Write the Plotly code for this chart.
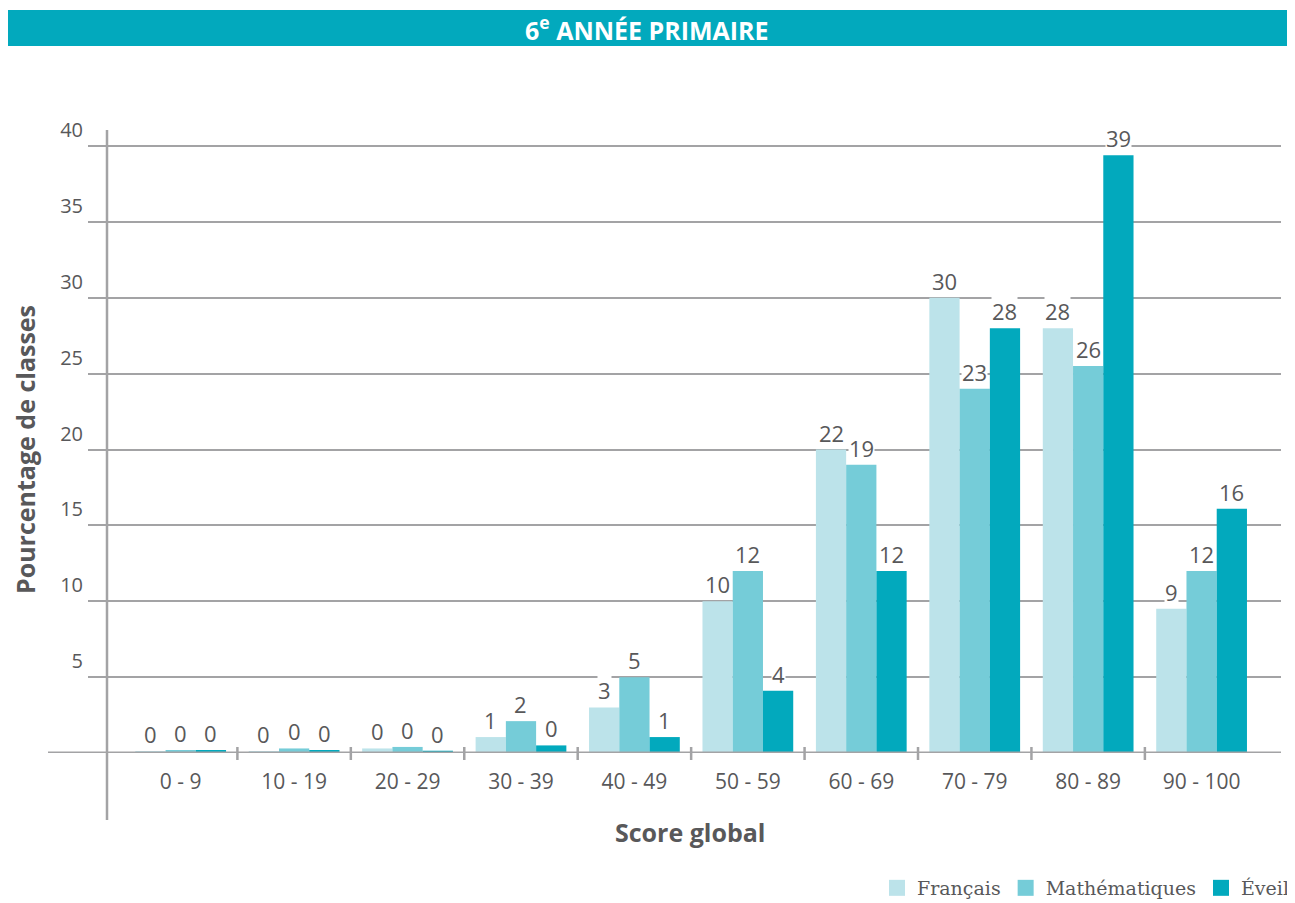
import plotly.graph_objects as go

categories = ["0 - 9", "10 - 19", "20 - 29", "30 - 39", "40 - 49",
              "50 - 59", "60 - 69", "70 - 79", "80 - 89", "90 - 100"]
series_names = ["Français", "Mathématiques", "Éveil"]
francais = [0.1, 0.1, 0.3, 1.05, 3.0, 10.0, 20.0, 30.0, 28.0, 9.5]
maths = [0.2, 0.3, 0.4, 2.1, 5.0, 12.0, 19.0, 24.0, 25.5, 12.0]
eveil = [0.2, 0.2, 0.15, 0.5, 1.05, 4.1, 12.0, 28.0, 39.4, 16.1]
francais_labels = [0, 0, 0, 1, 3, 10, 22, 30, 28, 9]
maths_labels = [0, 0, 0, 2, 5, 12, 19, 23, 26, 12]
eveil_labels = [0, 0, 0, 0, 1, 4, 12, 28, 39, 16]
y_ticks = [5, 10, 15, 20, 25, 30, 35, 40]

colors = ["#bce3ea", "#75ccd8", "#02a9bd"]
text_color = "#58585a"
grid_color = "#a3a3a5"
bargap = 0.2
FONT = "Open Sans, sans-serif"

OFF = 8  # page body margin
W, H = 1295, 903
YMAX = 40.4
# plot area in page pixels (x: left/right, y: row of value 40 and of value 0)
PL, PR, P40, PB = 88, 1281, 146, 753
PT = PB - (PB - P40) * YMAX / 40
PW, PH = PR - PL, PB - PT

values = [francais, maths, eveil]
labels = [francais_labels, maths_labels, eveil_labels]


def py(pix):
    return (PB - pix) / PH


def px(pix):
    return (pix - PL) / PW


fig = go.Figure()
for name, vals, col in zip(series_names, values, colors):
    fig.add_trace(go.Bar(x=categories, y=vals, name=name, marker_color=col,
                         marker_line_width=0, showlegend=False))
# legend entries (larger square swatches)
for name, col in zip(series_names, colors):
    fig.add_trace(go.Scatter(x=[None], y=[None], mode="markers", name=name,
                             marker=dict(symbol="square", size=22, color=col)))

annotations = []
w = (1 - bargap) / 3
for j, labs in enumerate(labels):
    for i, (v, lab) in enumerate(zip(values[j], labs)):
        annotations.append(dict(
            x=i + (j - 1) * w, y=v, xref="x", yref="y", text=str(lab),
            showarrow=False, yanchor="bottom", yshift=1, bgcolor="white",
            borderpad=0, font=dict(family=FONT, size=22, color=text_color)))

fig.update_layout(
    width=W, height=H,
    margin=dict(l=PL - OFF, r=W - (PR - OFF), t=PT - OFF, b=H - (PB - OFF), autoexpand=False),
    paper_bgcolor="white", plot_bgcolor="white",
    barmode="group", bargap=bargap, bargroupgap=0,
    showlegend=True,
    legend=dict(orientation="h", x=px(1295), xanchor="right", y=py(888), yanchor="middle",
                font=dict(family="DejaVu Serif, serif", size=19, color=text_color),
                itemsizing="trace", traceorder="normal", itemclick=False,
                tracegroupgap=0, itemwidth=30),
    xaxis=dict(type="category", range=[-0.817, 9.7], showgrid=False, showline=False,
               zeroline=False, ticks="", automargin=False,
               tickfont=dict(family=FONT, size=21, color=text_color),
               ticklabelstandoff=14),
    yaxis=dict(range=[0, YMAX], tickvals=y_ticks, showgrid=True, gridcolor=grid_color,
               gridwidth=1.5, showline=False, zeroline=False, ticks="", automargin=False,
               tickfont=dict(family=FONT, size=20, color=text_color),
               ticklabelshift=-16, ticklabelstandoff=4),
)

shapes = []
# title banner
shapes.append(dict(type="rect", xref="paper", yref="paper",
                   x0=px(5), x1=px(1290), y0=py(46), y1=py(10),
                   fillcolor="#02a9bd", line_width=0, layer="below"))
# x baseline
shapes.append(dict(type="line", xref="paper", yref="y", x0=px(48), x1=1, y0=0, y1=0,
                   line=dict(color=grid_color, width=3)))
# y axis line
shapes.append(dict(type="line", xref="paper", yref="paper", x0=px(107), x1=px(107),
                   y0=py(820), y1=py(130), line=dict(color=grid_color, width=2.5)))
# category boundary ticks
for i in range(len(categories) - 1):
    shapes.append(dict(type="line", xref="x", yref="paper", x0=i + 0.5, x1=i + 0.5,
                       y0=py(760), y1=py(747), line=dict(color=grid_color, width=2.5)))

annotations.append(dict(x=px(647), y=py(28), xref="paper", yref="paper",
                        text="<b>6<sup>e</sup> ANNÉE PRIMAIRE</b>", showarrow=False,
                        xanchor="center", yanchor="middle",
                        font=dict(family=FONT, size=25, color="white")))
annotations.append(dict(x=px(690), y=py(832), xref="paper", yref="paper",
                        text="<b>Score global</b>", showarrow=False,
                        xanchor="center", yanchor="middle",
                        font=dict(family=FONT, size=25, color=text_color)))
annotations.append(dict(x=px(25), y=py(450), xref="paper", yref="paper",
                        text="<b>Pourcentage de classes</b>", showarrow=False, textangle=-90,
                        xanchor="center", yanchor="middle",
                        font=dict(family=FONT, size=25, color=text_color)))

fig.update_layout(shapes=shapes, annotations=annotations)
fig.write_html("out.html")
